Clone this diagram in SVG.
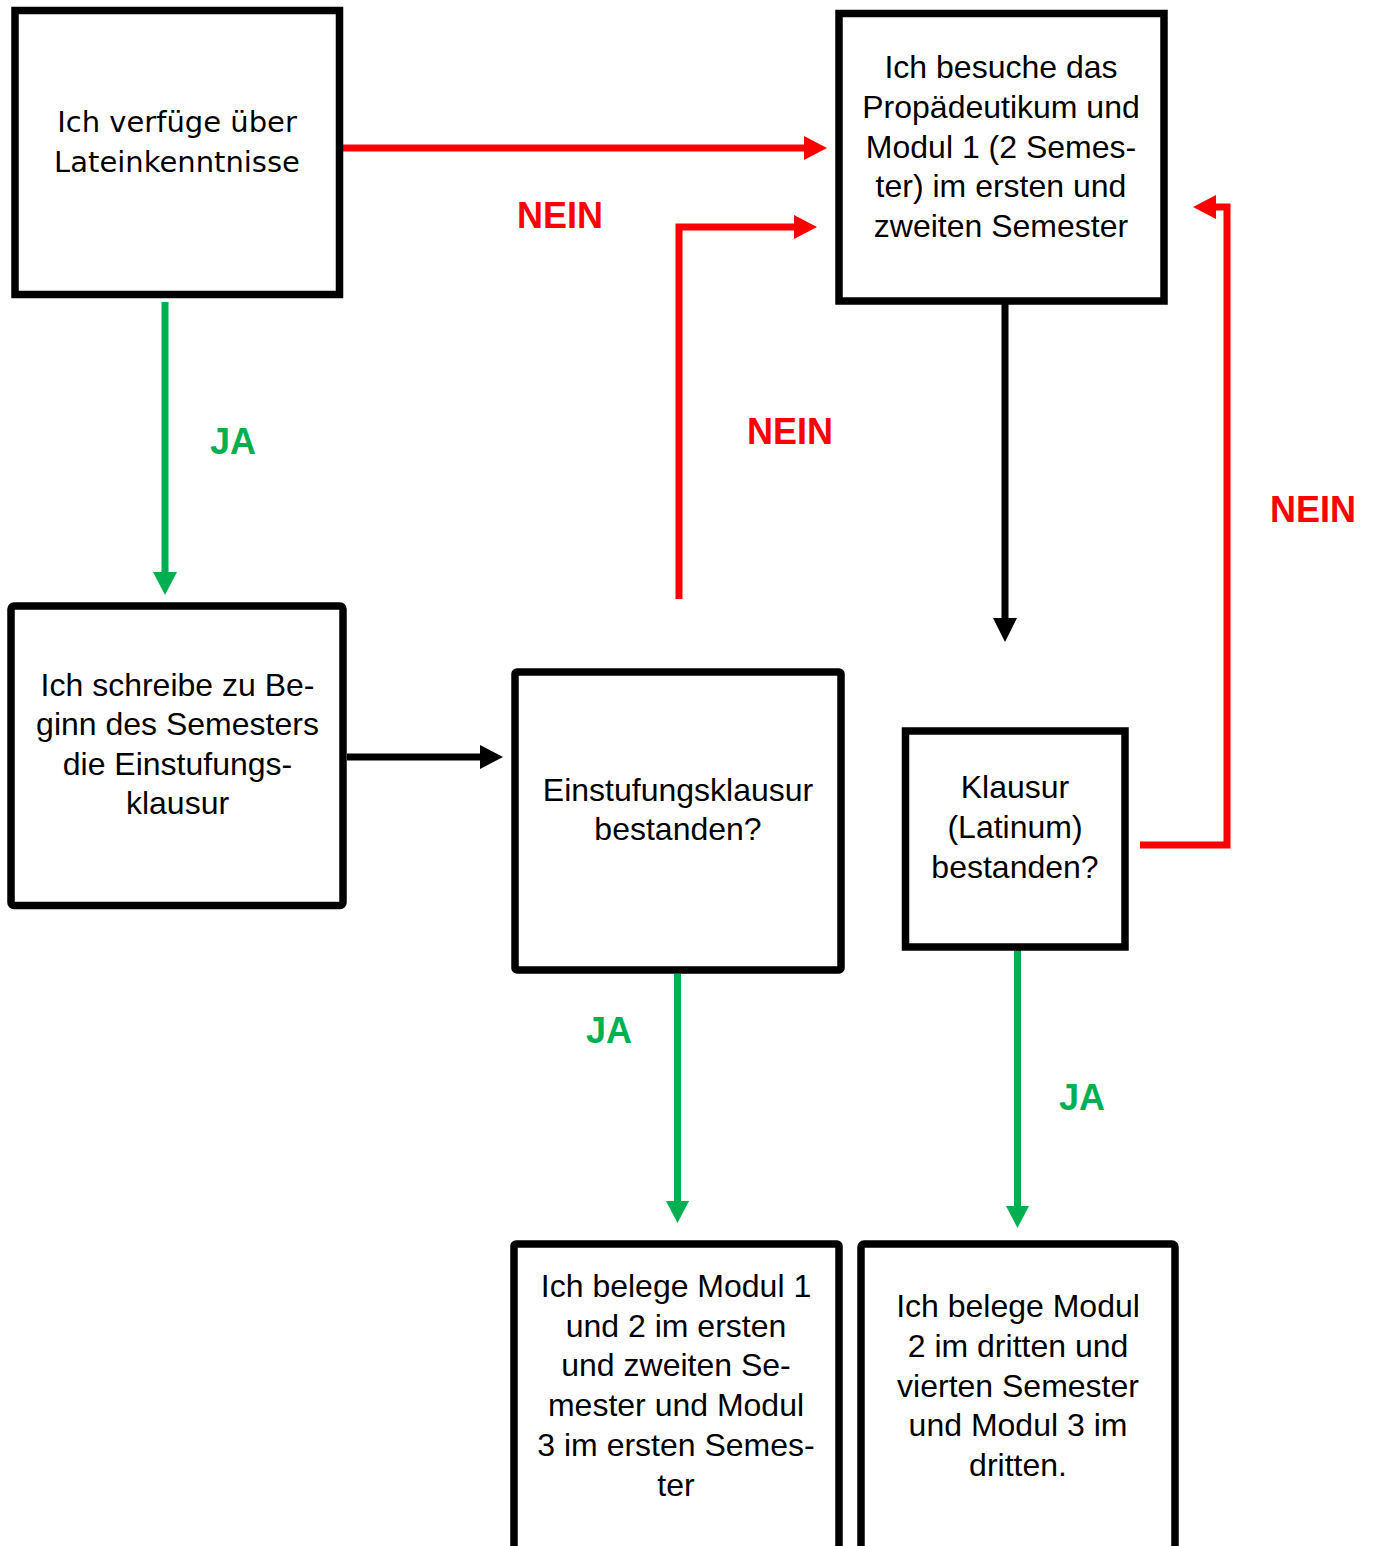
<svg xmlns="http://www.w3.org/2000/svg" width="1374" height="1546" viewBox="0 0 1374 1546">
<style>
.box{fill:#fff;stroke:#000;stroke-width:7.5}
.t{font-family:"Liberation Sans",Arial,sans-serif;font-size:32px;fill:#000;text-anchor:middle}
.tv{font-family:"DejaVu Sans",Verdana,sans-serif;font-size:29px;fill:#000;text-anchor:middle}
.lbl{font-family:"Liberation Sans",Arial,sans-serif;font-size:36px;font-weight:bold}
.red{stroke:#FF0000;stroke-width:7;fill:none}
.green{stroke:#00B050;stroke-width:7;fill:none}
.black{stroke:#000;stroke-width:7;fill:none}
</style>
<rect width="1374" height="1546" fill="#fff"/>
<g id="connectors">
  <line class="red" x1="343" y1="148" x2="805" y2="148"/>
  <polygon points="804,136 827,148 804,160" fill="#FF0000"/>
  <polyline class="red" points="679,599 679,227 795,227"/>
  <polygon points="794,215 817,227 794,239" fill="#FF0000"/>
  <polyline class="red" points="1140,845 1227,845 1227,207 1214,207"/>
  <polygon points="1216,195 1193,207 1216,219" fill="#FF0000"/>
  <line class="green" x1="165" y1="302" x2="165" y2="574"/>
  <polygon points="153,572 177,572 165,595" fill="#00B050"/>
  <line class="black" x1="1005" y1="304" x2="1005" y2="620"/>
  <polygon points="993,618 1017,618 1005,642" fill="#000"/>
  <line class="black" x1="347" y1="757" x2="481" y2="757"/>
  <polygon points="480,745 503,757 480,769" fill="#000"/>
  <line class="green" x1="677.5" y1="974" x2="677.5" y2="1203"/>
  <polygon points="666,1201 689,1201 677.5,1223" fill="#00B050"/>
  <line class="green" x1="1017.5" y1="950" x2="1017.5" y2="1208"/>
  <polygon points="1006,1206 1029,1206 1017.5,1228" fill="#00B050"/>
  <text class="lbl" x="517" y="228" fill="#FF0000">NEIN</text>
  <text class="lbl" x="747" y="444" fill="#FF0000">NEIN</text>
  <text class="lbl" x="1270" y="522" fill="#FF0000">NEIN</text>
  <text class="lbl" x="210" y="454" fill="#00B050">JA</text>
  <text class="lbl" x="586" y="1043" fill="#00B050">JA</text>
  <text class="lbl" x="1059" y="1110" fill="#00B050">JA</text>
</g>
<g id="n1">
  <rect class="box" x="15" y="10.5" width="324.5" height="284"/>
  <text class="tv" x="177" y="132">Ich verfüge über</text>
  <text class="tv" x="177" y="172">Lateinkenntnisse</text>
</g>
<g id="n2">
  <rect class="box" x="839" y="13.5" width="325" height="287.5"/>
  <text class="t" x="1001" y="78">Ich besuche das</text>
  <text class="t" x="1001" y="118">Propädeutikum und</text>
  <text class="t" x="1001" y="157.5">Modul 1 (2 Semes-</text>
  <text class="t" x="1001" y="197">ter) im ersten und</text>
  <text class="t" x="1001" y="236.5">zweiten Semester</text>
</g>
<g id="n3">
  <rect class="box" x="11" y="606" width="332" height="299.5" rx="3"/>
  <text class="t" x="177.5" y="696">Ich schreibe zu Be-</text>
  <text class="t" x="177.5" y="735">ginn des Semesters</text>
  <text class="t" x="177.5" y="775">die Einstufungs-</text>
  <text class="t" x="177.5" y="814">klausur</text>
</g>
<g id="n4">
  <rect class="box" x="515" y="672" width="326" height="298" rx="2"/>
  <text class="t" x="678" y="801">Einstufungsklausur</text>
  <text class="t" x="678" y="840">bestanden?</text>
</g>
<g id="n5">
  <rect class="box" x="905.5" y="731" width="219.5" height="216"/>
  <text class="t" x="1015" y="798">Klausur</text>
  <text class="t" x="1015" y="838">(Latinum)</text>
  <text class="t" x="1015" y="878">bestanden?</text>
</g>
<g id="n6">
  <rect class="box" x="514" y="1244" width="325" height="330" rx="2"/>
  <text class="t" x="676" y="1297">Ich belege Modul 1</text>
  <text class="t" x="676" y="1337">und 2 im ersten</text>
  <text class="t" x="676" y="1376">und zweiten Se-</text>
  <text class="t" x="676" y="1416">mester und Modul</text>
  <text class="t" x="676" y="1456">3 im ersten Semes-</text>
  <text class="t" x="676" y="1496">ter</text>
</g>
<g id="n7">
  <rect class="box" x="861" y="1244" width="314" height="330" rx="3"/>
  <text class="t" x="1018" y="1317">Ich belege Modul</text>
  <text class="t" x="1018" y="1357">2 im dritten und</text>
  <text class="t" x="1018" y="1397">vierten Semester</text>
  <text class="t" x="1018" y="1436">und Modul 3 im</text>
  <text class="t" x="1018" y="1476">dritten.</text>
</g>
</svg>
